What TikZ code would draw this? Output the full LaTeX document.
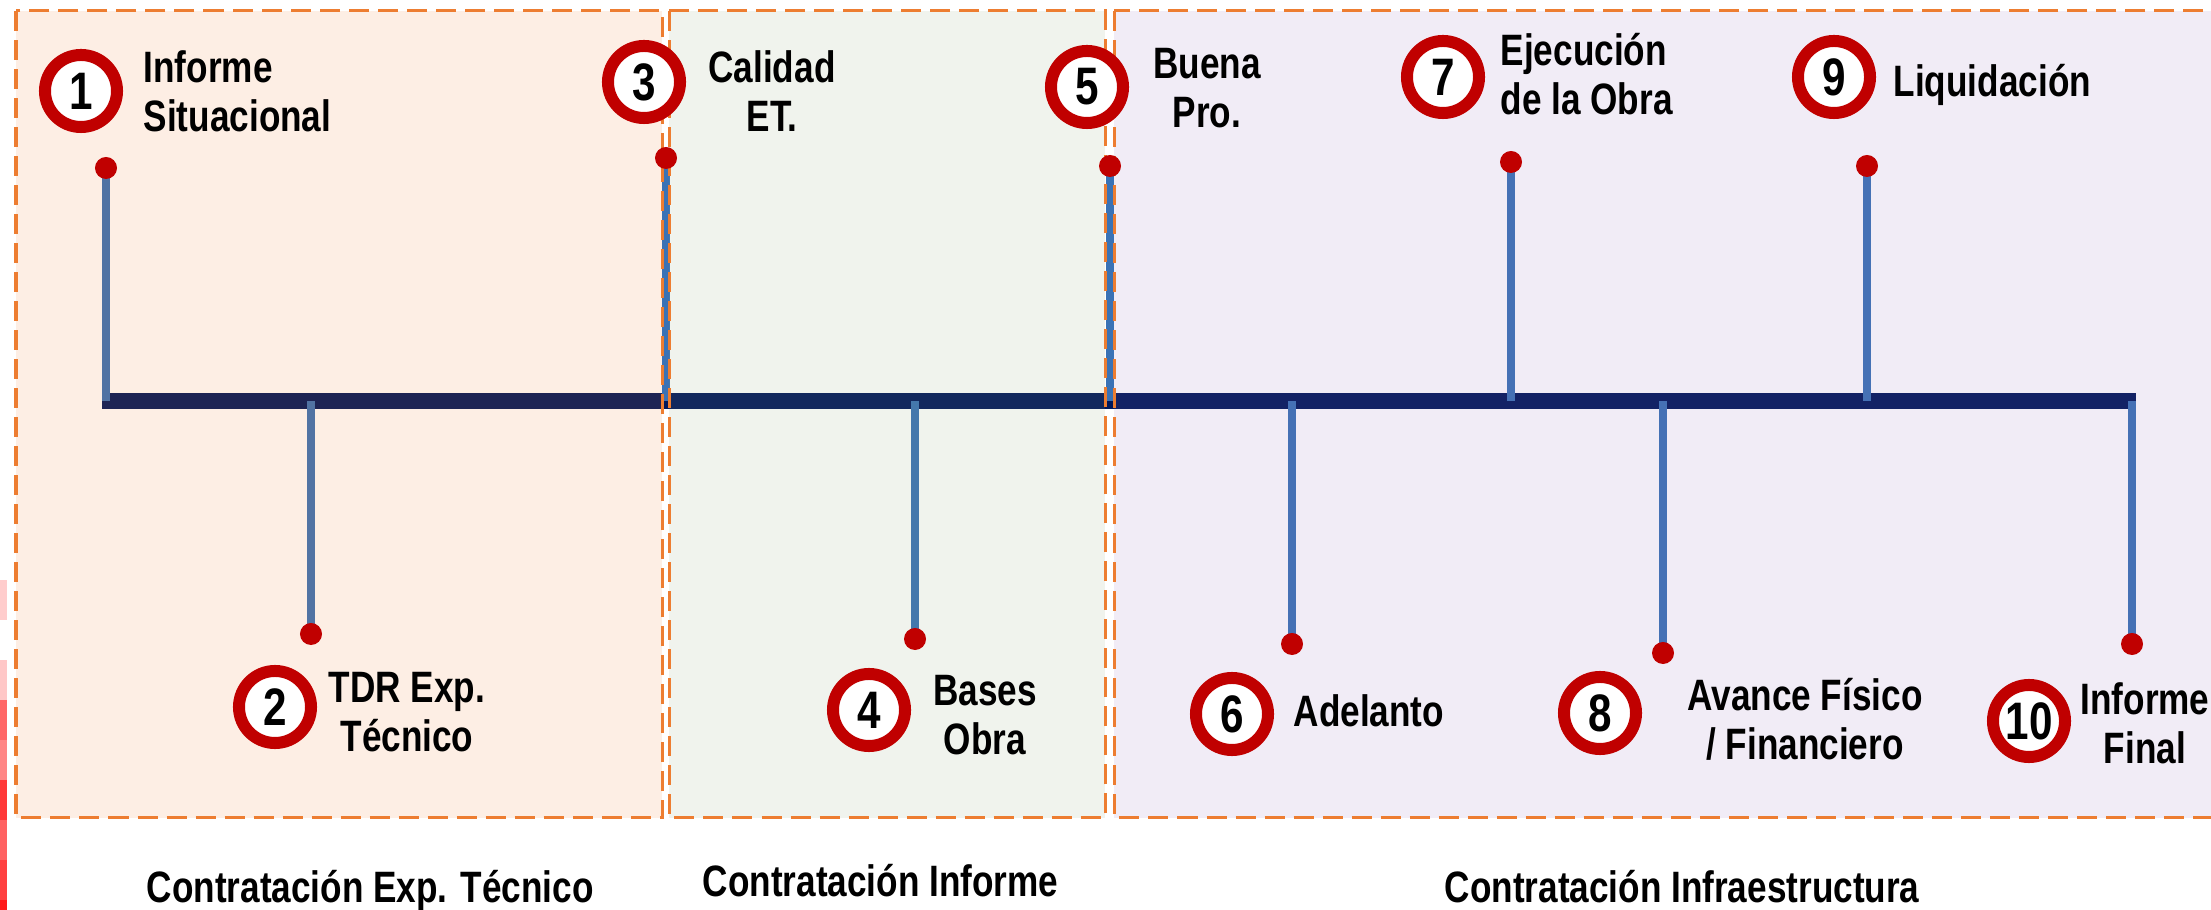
\documentclass[tikz,border=0pt]{standalone}
\usepackage{fontspec}
\setmainfont[FakeStretch=0.8]{Liberation Sans}
\usetikzlibrary{backgrounds}

\definecolor{linenavy}{HTML}{00175A}
\definecolor{stemblue}{HTML}{3A72B5}
\definecolor{ringred}{HTML}{C00000}
\definecolor{boxorange}{HTML}{ED7D31}
\definecolor{phasegreen}{HTML}{8EA273}
\definecolor{phasepurple}{HTML}{946CB6}

\begin{document}
\begin{tikzpicture}[x=0.01cm, y=-0.01cm,
    time line/.style={draw=linenavy, line width=0.16cm},
    stem line/.style={draw=stemblue, line width=0.08cm},
    end dot/.style={circle, fill=ringred, inner sep=0pt, minimum size=0.22cm},
    badge/.style={circle, draw=ringred, line width=0.12cm, fill=white,
      inner sep=0pt, minimum size=0.72cm,
      font=\bfseries\fontsize{15}{15}\selectfont},
    label text/.style={inner sep=0pt, font=\bfseries\fontsize{12.5}{14.2}\selectfont},
    phase box/.style={draw=boxorange, line width=0.03cm,
      dash pattern=on 0.2cm off 0.09cm, fill opacity=0.13}]
  \useasboundingbox (0,0) rectangle (2211,910);

  % left strip
  \fill[red!20] (0,580) rectangle (7,620);
  \fill[red!22] (0,660) rectangle (7,700);
  \fill[red!60] (0,700) rectangle (7,740);
  \fill[red!48] (0,740) rectangle (7,780);
  \fill[red!78] (0,780) rectangle (7,820);
  \fill[red!62] (0,820) rectangle (7,860);
  \fill[red!75] (0,860) rectangle (7,900);
  \fill[red!90] (0,900) rectangle (7,910);

  % timeline
  \coordinate (start) at (102,401);
  \coordinate (end) at (2136,401);

  % dots
  \node[end dot] (p1) at (106,168) {};
  \node[end dot] (p2) at (311,634) {};
  \node[end dot] (p3) at (666,158) {};
  \node[end dot] (p4) at (915,639) {};
  \node[end dot] (p5) at (1110,166) {};
  \node[end dot] (p6) at (1292,644) {};
  \node[end dot] (p7) at (1511,162) {};
  \node[end dot] (p8) at (1663,653) {};
  \node[end dot] (p9) at (1867,166) {};
  \node[end dot] (p10) at (2132,644) {};

  % badges
  \node[badge] (n1) at (81,91) {1};
  \node[badge] (n2) at (275,707) {2};
  \node[badge] (n3) at (644,82) {3};
  \node[badge] (n4) at (869,710) {4};
  \node[badge] (n5) at (1087,87) {5};
  \node[badge] (n6) at (1232,714) {6};
  \node[badge] (n7) at (1443,77) {7};
  \node[badge] (n8) at (1600,713) {8};
  \node[badge] (n9) at (1834,77) {9};
  \node[badge] (n10) at (2029,721) {10};

  % milestone labels (base = last line)
  \node[label text, anchor=base west, align=left] (l1) at (143,132) {Informe\\Situacional};
  \node[label text, anchor=base, align=center] (l2) at (407,752) {TDR Exp.\\Técnico};
  \node[label text, anchor=base, align=center] (l3) at (772,132) {Calidad\\ET.};
  \node[label text, anchor=base, align=center] (l4) at (985,755) {Bases\\Obra};
  \node[label text, anchor=base, align=center] (l5) at (1207,128) {Buena\\Pro.};
  \node[label text, anchor=base west] (l6) at (1293,727) {Adelanto};
  \node[label text, anchor=base west, align=left] (l7) at (1500,115) {Ejecución\\de la Obra};
  \node[label text, anchor=base, align=center] (l8) at (1805,760) {Avance Físico\\/ Financiero};
  \node[label text, anchor=base west] (l9) at (1893,97) {Liquidación};
  \node[label text, anchor=base, align=center] (l10) at (2145,764) {Informe\\Final};

  % phase names
  \node[label text, anchor=base west] (f1) at (146,903) {Contratación Exp. Técnico};
  \node[label text, anchor=base west] (f2) at (702,897) {Contratación Informe};
  \node[label text, anchor=base west] (f3) at (1444,903) {Contratación Infraestructura};

  \begin{scope}[on background layer]
    \draw[time line] (start) -- (end);
    \draw[stem line] (106,401) -- (p1.center);
    \draw[stem line] (311,401) -- (p2.center);
    \draw[stem line] (666,401) -- (p3.center);
    \draw[stem line] (915,401) -- (p4.center);
    \draw[stem line] (1110,401) -- (p5.center);
    \draw[stem line] (1292,401) -- (p6.center);
    \draw[stem line] (1511,401) -- (p7.center);
    \draw[stem line] (1663,401) -- (p8.center);
    \draw[stem line] (1867,401) -- (p9.center);
    \draw[stem line] (2132,401) -- (p10.center);
    % phases
    \draw[phase box, fill=boxorange] (16,11) rectangle (662,818);
    \draw[phase box, fill=phasegreen] (669,11) rectangle (1105,818);
    \draw[phase box, fill=phasepurple] (1114,11) rectangle (2230,818);
  \end{scope}
\end{tikzpicture}
\end{document}
